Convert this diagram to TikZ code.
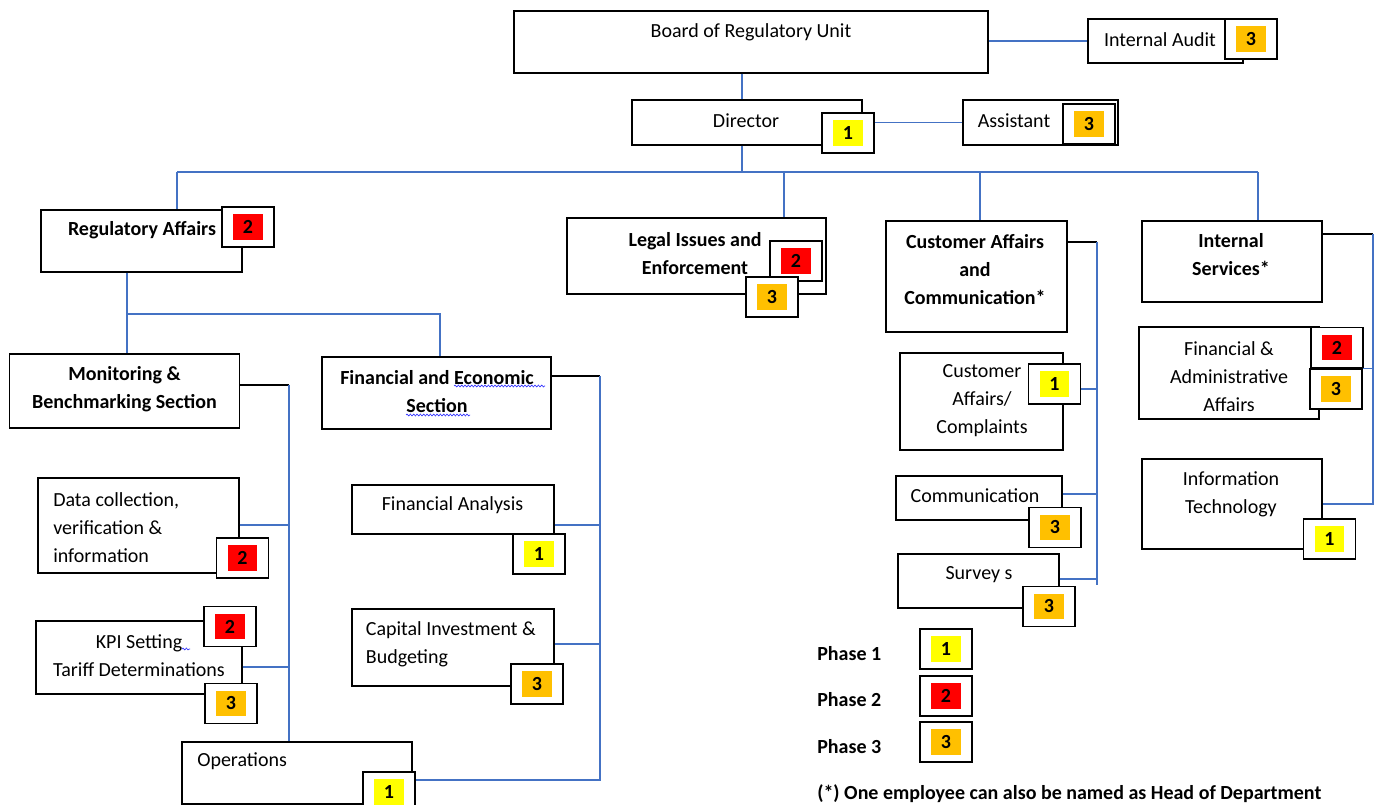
\documentclass[tikz,border=0pt]{standalone}
\usepackage{fontspec}
\setmainfont{Carlito}
\usetikzlibrary{fit}
\usetikzlibrary{decorations.pathmorphing}
\definecolor{linkblue}{RGB}{68,114,196}
\definecolor{phaseone}{RGB}{255,255,0}
\definecolor{phasetwo}{RGB}{255,0,0}
\definecolor{phasethree}{RGB}{255,192,0}
\newcommand{\orgfont}{\fontsize{15}{21}\selectfont}
\tikzset{
  unitbox/.style={draw, fill=white, line width=1pt, inner sep=0pt},
  lbl/.style={inner sep=0pt, align=center, font=\orgfont},
  head/.style={inner sep=0pt, align=center, font=\orgfont\bfseries},
  badge/.style={draw, fill=white, line width=1pt, inner sep=0pt,
    minimum width=39pt, minimum height=30pt, font=\orgfont\bfseries,
    path picture={\fill[#1] ([shift={(-10.9pt,-9.4pt)}]path picture bounding box.center) rectangle ++(21.8pt,18.8pt);}},
  link/.style={linkblue, line width=0.8pt},
  tick/.style={black, line width=0.8pt},
  squiggle/.style={blue!80!white, line width=0.5pt, decorate,
    decoration={snake, amplitude=0.7pt, segment length=2.5pt}}
}

\begin{document}
\begin{tikzpicture}[x=0.75pt, y=-0.75pt]
  \useasboundingbox (0,0) rectangle (1378,805);
  % top of the chart
  \node[unitbox, fit={(514,11) (988,73)}] (board) {};
  \node[unitbox, fit={(1088,19) (1243,63)}] (audit) {};
  \node[badge=phasethree] (auditbadge) at (1251,39) {3};
  \node[unitbox, fit={(632,100) (862,145)}] (director) {};
  \node[badge=phaseone] (dirbadge) at (848,133) {1};
  \node[unitbox, fit={(963,100) (1118,145)}] (assistant) {};
  \node[badge=phasethree] (assbadge) at (1089,124) {3};
  \node[lbl] (boardtxt) at (751,32) {Board of Regulatory Unit};
  \node[lbl] (audittxt) at (1160,40) {Internal Audit};
  \node[lbl] (dirtxt) at (746,120.5) {Director};
  \node[lbl] (asstxt) at (1014,120.5) {Assistant};

  % departments
  \node[unitbox, fit={(41,210) (242,272)}] (regaff) {};
  \node[badge=phasetwo] (regbadge) at (248,227) {2};
  \node[head] (regtxt) at (142,230.5) {Regulatory Affairs};
  \node[unitbox, fit={(567,218) (826,294)}] (legal) {};
  \node[badge=phasetwo] (legalbadge2) at (796,261) {2};
  \node[badge=phasethree] (legalbadge3) at (772,297) {3};
  \node[head] (legaltxt) at (695,253.5) {Legal Issues and\\Enforcement};
  \node[unitbox, fit={(886,221) (1067,332)}] (custaff) {};
  \node[head] (custtxt) at (975,270) {Customer Affairs\\and\\Communication*};
  \node[unitbox, fit={(1142,221) (1322,302)}] (intserv) {};
  \node[head] (intservtxt) at (1231,255) {Internal\\Services*};

  % customer affairs units
  \node[unitbox, fit={(900,353) (1063,450)}] (complaints) {};
  \node[badge=phaseone] (complbadge) at (1054.5,384) {1};
  \node[lbl] (compltxt) at (982,401) {Customer\\Affairs/\\Complaints};
  \node[unitbox, fit={(896,476) (1062,520)}] (comm) {};
  \node[badge=phasethree] (commbadge) at (1055,527.5) {3};
  \node[lbl] (commtxt) at (975,496) {Communication};
  \node[unitbox, fit={(898,554) (1059,608)}] (survey) {};
  \node[badge=phasethree] (surveybadge) at (1049,606.5) {3};
  \node[lbl] (surveytxt) at (979,575) {Survey s};

  % internal services units
  \node[unitbox, fit={(1139,327) (1319,419)}] (finadm) {};
  \node[badge=phasetwo] (finadmbadge2) at (1337,347.5) {2};
  \node[badge=phasethree] (finadmbadge3) at (1336,389) {3};
  \node[lbl] (finadmtxt) at (1229,376.5) {Financial \&\\Administrative\\Affairs};
  \node[unitbox, fit={(1142,459) (1322,549)}] (infotech) {};
  \node[badge=phaseone] (itbadge) at (1329.5,539) {1};
  \node[lbl] (ittxt) at (1231,494.5) {Information\\Technology};

  % regulatory affairs sections
  \node[unitbox, fit={(9.5,354) (239.5,428)}] (monit) {};
  \node[head] (monittxt) at (124.5,389) {Monitoring \&\\Benchmarking Section};
  \node[unitbox, fit={(322,357) (551,429)}] (fined) {};
  \node[head] (finedtxt) at (437,391.5) {Financial and Economic\\Section};
  \node[unitbox, fit={(38,478) (239,573)}] (datac) {};
  \node[badge=phasetwo] (databadge) at (242.5,558) {2};
  \node[lbl, align=left, anchor=west] (datatxt) at (53,527.5) {Data collection,\\verification \&\\information};
  \node[unitbox, fit={(36,621) (242,694)}] (kpi) {};
  \node[badge=phasetwo] (kpibadge2) at (230,626.5) {2};
  \node[badge=phasethree] (kpibadge3) at (231,703.5) {3};
  \node[lbl] (kpitxt) at (139,655.5) {KPI Setting\\Tariff Determinations};
  \node[unitbox, fit={(182,742) (412,804)}] (ops) {};
  \node[badge=phaseone] (opsbadge) at (389,792) {1};
  \node[lbl, anchor=west] (opstxt) at (197,761.5) {Operations};
  \node[unitbox, fit={(352,485) (554,534)}] (fanal) {};
  \node[badge=phaseone] (fanalbadge) at (539,554) {1};
  \node[lbl] (fanaltxt) at (452.5,505) {Financial Analysis};
  \node[unitbox, fit={(352,609) (554,686)}] (capinv) {};
  \node[badge=phasethree] (capbadge) at (537,684) {3};
  \node[lbl, align=left, anchor=west] (captxt) at (365.6,644) {Capital Investment \&\\Budgeting};

  % spelling marks
  \draw[squiggle] (454,386) -- (545,386);
  \draw[squiggle] (406,415) -- (470,415);
  \draw[squiggle] (182,649) -- (190,649);

  % key
  \node[badge=phaseone] (key1) at (946,649) {1};
  \node[badge=phasetwo] (key2) at (946,696) {2};
  \node[badge=phasethree] (key3) at (946,742) {3};
  \node[head, anchor=west] (key1txt) at (817,654) {Phase 1};
  \node[head, anchor=west] (key2txt) at (817,700) {Phase 2};
  \node[head, anchor=west] (key3txt) at (817,747) {Phase 3};
  \node[head, anchor=west] (note) at (817,794) {(*) One employee can also be named as Head of Department};

  % connectors
  \coordinate (jtop) at (742,172);
  \coordinate (busw) at (177,172);
  \coordinate (buse) at (1258,172);
  \coordinate (jlegal) at (784,172);
  \coordinate (jcust) at (980,172);
  \draw[link] (board.south -| jtop) -- (director.north -| jtop);
  \draw[link] (director.south -| jtop) -- (jtop);
  \draw[link] (board.east |- audit.west) -- (audit.west);
  \draw[link] (dirbadge.east |- assistant.west) -- (assistant.west);
  \draw[link] (busw) -- (buse);
  \draw[link] (busw) -- (busw |- regaff.north);
  \draw[link] (jlegal) -- (jlegal |- legal.north);
  \draw[link] (jcust) -- (jcust |- custaff.north);
  \draw[link] (buse) -- (buse |- intserv.north);

  \coordinate (jreg) at (127,314);
  \coordinate (jfin) at (440,314);
  \draw[link] (regaff.south -| jreg) -- (monit.north -| jreg);
  \draw[link] (jreg) -- (jfin) -- (jfin |- fined.north);

  \coordinate (mtop) at (289,385);
  \coordinate (mdata) at (289,525);
  \coordinate (mkpi) at (289,667);
  \draw[tick] (monit.east |- mtop) -- (mtop);
  \draw[link] (mtop) -- (mtop |- ops.north);
  \draw[link] (datac.east |- mdata) -- (mdata);
  \draw[link] (kpi.east |- mkpi) -- (mkpi);

  \coordinate (ftop) at (600,376);
  \coordinate (fanaly) at (600,525);
  \coordinate (fcap) at (600,644);
  \coordinate (fbot) at (600,780);
  \draw[tick] (fined.east |- ftop) -- (ftop);
  \draw[link] (ftop) -- (fbot) -- (fbot -| opsbadge.east);
  \draw[link] (fanal.east |- fanaly) -- (fanaly);
  \draw[link] (capinv.east |- fcap) -- (fcap);

  \coordinate (ctop) at (1097,242);
  \coordinate (cbot) at (1097,585);
  \coordinate (ccompl) at (1097,389);
  \coordinate (ccomm) at (1097,494);
  \coordinate (csurvey) at (1097,579);
  \draw[tick] (custaff.east |- ctop) -- (ctop);
  \draw[link] (ctop) -- (cbot);
  \draw[link] (complbadge.east |- ccompl) -- (ccompl);
  \draw[link] (comm.east |- ccomm) -- (ccomm);
  \draw[link] (survey.east |- csurvey) -- (csurvey);

  \coordinate (itop) at (1373,234);
  \coordinate (ibot) at (1373,504);
  \draw[tick] (intserv.east |- itop) -- (itop);
  \draw[link] (itop) -- (ibot) -- (ibot -| infotech.east);
  \draw[link] (finadmbadge3.north east) -- (finadmbadge3.north east -| itop);
\end{tikzpicture}
\end{document}
